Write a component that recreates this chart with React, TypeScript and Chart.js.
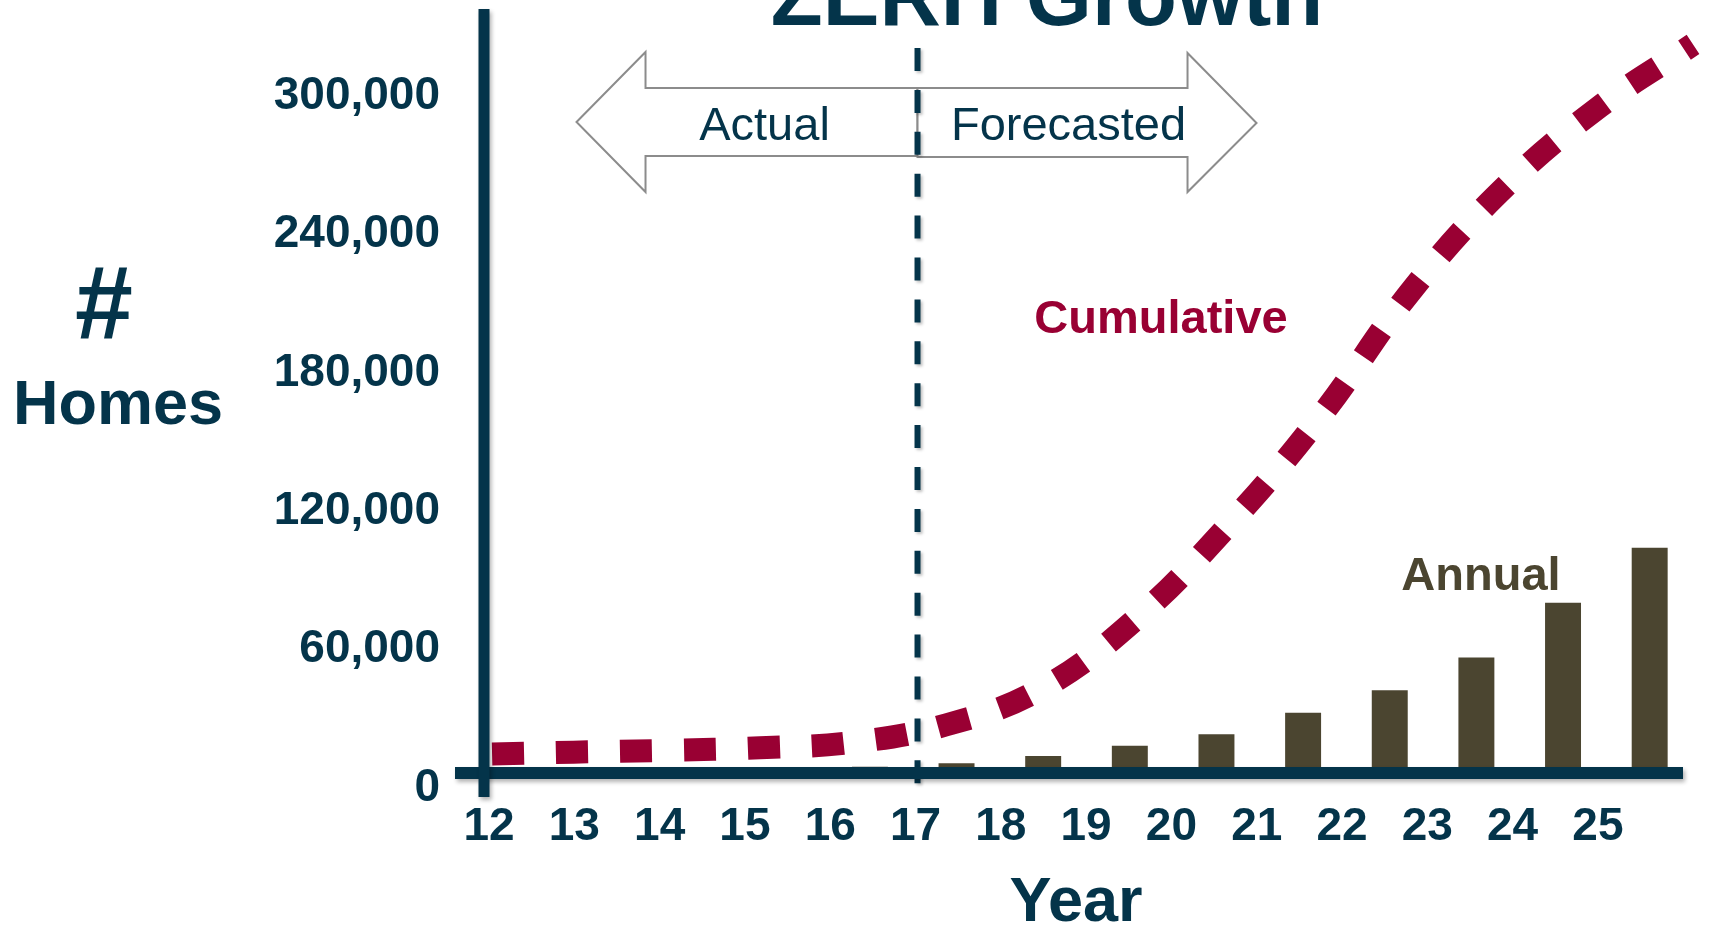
import { useEffect, useRef } from 'react';
import { Chart, registerables } from 'chart.js';

Chart.register(...registerables);

// ---- data ----
const years = ['12', '13', '14', '15', '16', '17', '18', '19', '20', '21', '22', '23', '24', '25'];
const xTickValues = [12, 13, 14, 15, 16, 17, 18, 19, 20, 21, 22, 23, 24, 25];
const annualHomes = [0, 0, 0, 0, 1000, 2500, 5600, 10100, 15100, 24400, 34100, 48300, 72100, 95900];
const cumulativeHomes = [6400, 7300, 8100, 9200, 11600, 19200, 34400, 64000, 104800, 152500, 208400, 253000, 287200, 314200];
const yTickValues = [0, 60000, 120000, 180000, 240000, 300000];
const forecastStartYear = 17;

// ---- styles ----
const NAVY = '#04344A';
const CRIMSON = '#990033';
const OLIVE = '#4B4530';
const ARROW = '#8C8C8C';
const FONT = '"Liberation Sans", Arial, sans-serif';

function text(ctx: CanvasRenderingContext2D, s: string, x: number, y: number, font: string, color: string) {
  ctx.save();
  ctx.font = font;
  ctx.fillStyle = color;
  ctx.textAlign = 'center';
  ctx.textBaseline = 'alphabetic';
  ctx.fillText(s, x, y);
  ctx.restore();
}

const decor = {
  id: 'decor',
  beforeDatasetsDraw(chart: any) {
    const ctx: CanvasRenderingContext2D = chart.ctx;
    const cx = chart.scales.x.getPixelForValue(forecastStartYear) + 2;
    // arrows
    ctx.save();
    ctx.fillStyle = '#ffffff';
    ctx.strokeStyle = ARROW;
    ctx.lineWidth = 2;
    ctx.lineJoin = 'miter';
    // left (Actual)
    ctx.beginPath();
    ctx.moveTo(cx - 341, 122);
    ctx.lineTo(cx - 272, 52);
    ctx.lineTo(cx - 272, 88);
    ctx.lineTo(cx, 88);
    ctx.lineTo(cx, 156);
    ctx.lineTo(cx - 272, 156);
    ctx.lineTo(cx - 272, 192);
    ctx.closePath();
    ctx.fill();
    ctx.stroke();
    // right (Forecasted)
    ctx.beginPath();
    ctx.moveTo(cx, 88);
    ctx.lineTo(cx + 270, 88);
    ctx.lineTo(cx + 270, 53);
    ctx.lineTo(cx + 339, 123);
    ctx.lineTo(cx + 270, 192);
    ctx.lineTo(cx + 270, 157);
    ctx.lineTo(cx, 157);
    ctx.closePath();
    ctx.fill();
    ctx.stroke();
    ctx.restore();

    text(ctx, 'Actual', cx - 153, 140, `47px ${FONT}`, NAVY);
    text(ctx, 'Forecasted', cx + 151, 140, `47px ${FONT}`, NAVY);

    // dashed forecast divider
    ctx.save();
    ctx.strokeStyle = NAVY;
    ctx.lineWidth = 6;
    ctx.setLineDash([23, 18.9]);
    ctx.shadowColor = 'rgba(0,0,0,0.25)';
    ctx.shadowBlur = 3;
    ctx.shadowOffsetX = 2;
    ctx.shadowOffsetY = 2;
    ctx.beginPath();
    ctx.moveTo(cx, 48);
    ctx.lineTo(cx, chart.chartArea.bottom + 16);
    ctx.stroke();
    ctx.restore();
  },
  afterDatasetsDraw(chart: any) {
    const ctx: CanvasRenderingContext2D = chart.ctx;
    const a = chart.chartArea;
    ctx.save();
    ctx.strokeStyle = NAVY;
    ctx.lineCap = 'butt';
    ctx.shadowColor = 'rgba(0,0,0,0.3)';
    ctx.shadowBlur = 4;
    ctx.shadowOffsetX = 2;
    ctx.shadowOffsetY = 3;
    // x axis line
    ctx.lineWidth = 12;
    ctx.beginPath();
    ctx.moveTo(a.left - 25, a.bottom + 4);
    ctx.lineTo(a.right - 10, a.bottom + 4);
    ctx.stroke();
    // y axis line
    ctx.lineWidth = 11;
    ctx.beginPath();
    ctx.moveTo(a.left + 4, a.top + 1);
    ctx.lineTo(a.left + 4, a.bottom + 28);
    ctx.stroke();
    ctx.restore();
  },
  afterDraw(chart: any) {
    const ctx: CanvasRenderingContext2D = chart.ctx;
    text(ctx, 'ZERH Growth', 1047, 25, `bold 85px ${FONT}`, NAVY);
    text(ctx, '#', 104, 338, `bold 104px ${FONT}`, NAVY);
    text(ctx, 'Homes', 118, 424, `bold 63px ${FONT}`, NAVY);
    text(ctx, 'Year', 1076, 921, `bold 63px ${FONT}`, NAVY);
    text(ctx, 'Cumulative', 1161, 333, `bold 47px ${FONT}`, CRIMSON);
    text(ctx, 'Annual', 1481, 590, `bold 47px ${FONT}`, OLIVE);
  },
};

export default function App() {
  const ref = useRef<HTMLCanvasElement>(null);
  useEffect(() => {
    const canvas = ref.current!;
    const chart = new Chart(canvas, {
      type: 'bar',
      data: {
        labels: years,
        datasets: [
          {
            type: 'line',
            label: 'Cumulative',
            data: cumulativeHomes,
            xAxisID: 'xLine',
            yAxisID: 'y',
            borderColor: CRIMSON,
            borderWidth: 23,
            borderDash: [32, 32],
            borderDashOffset: 52,
            borderCapStyle: 'butt',
            pointRadius: 0,
            tension: 0.4,
            fill: false,
            clip: false,
            order: 1,
          } as any,
          {
            type: 'bar',
            label: 'Annual',
            data: annualHomes,
            xAxisID: 'xBar',
            yAxisID: 'y',
            backgroundColor: OLIVE,
            grouped: false,
            barPercentage: 0.415,
            categoryPercentage: 1,
            order: 2,
          } as any,
        ],
      },
      options: {
        responsive: false,
        animation: false,
        layout: { padding: { top: 8, right: 21, left: 0, bottom: 0 } },
        plugins: {
          legend: { display: false },
          tooltip: { enabled: false },
          title: { display: false },
        },
        scales: {
          x: {
            type: 'linear',
            position: 'bottom',
            offset: false,
            min: 11.894,
            max: 26.115,
            afterBuildTicks: (s: any) => {
              s.ticks = xTickValues.map((v) => ({ value: v }));
            },
            afterFit: (s: any) => {
              s.height = 156;
              s.paddingLeft = 0;
              s.paddingRight = 0;
            },
            grid: { display: false, drawTicks: false, offset: false },
            border: { display: false },
            ticks: {
              autoSkip: false,
              maxRotation: 0,
              padding: 31,
              color: NAVY,
              font: { family: FONT, size: 46, weight: 'bold' },
              callback: (v: any) => String(v),
            },
          },
          xBar: { type: 'category', display: false, offset: true, labels: years },
          xLine: { type: 'category', display: false, offset: false, labels: years, grid: { offset: false } },
          y: {
            type: 'linear',
            position: 'left',
            min: 0,
            max: 330000,
            afterBuildTicks: (s: any) => {
              s.ticks = yTickValues.map((v) => ({ value: v }));
            },
            afterFit: (s: any) => {
              s.width = 480;
              s.paddingTop = 0;
              s.paddingBottom = 0;
            },
            grid: { display: false, drawTicks: false },
            border: { display: false },
            ticks: {
              autoSkip: false,
              padding: 40,
              labelOffset: 19,
              color: NAVY,
              font: { family: FONT, size: 46, weight: 'bold' },
              callback: (v: any) => Number(v).toLocaleString('en-US'),
            },
          },
        } as any,
      },
      plugins: [decor],
    });
    return () => chart.destroy();
  }, []);
  return (
    <div style={{ position: 'fixed', left: 0, top: 0, width: 1714, height: 925, background: '#ffffff' }}>
      <canvas ref={ref} width={1714} height={925} style={{ display: 'block', width: 1714, height: 925 }} />
    </div>
  );
}
